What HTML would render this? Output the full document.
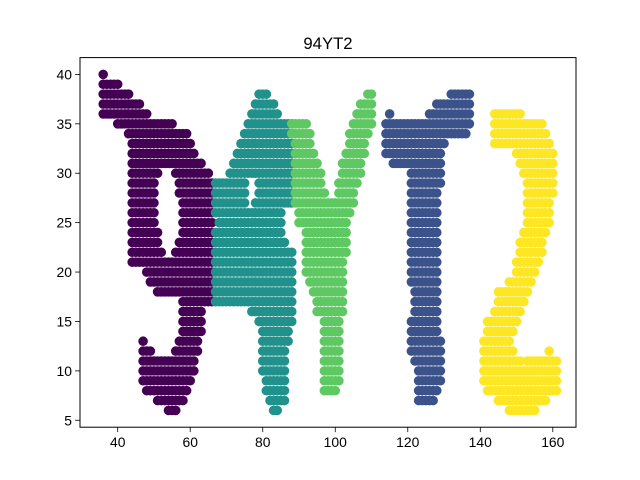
<!DOCTYPE html>
<html><head><meta charset="utf-8"><style>
html,body{margin:0;padding:0;background:#fff;}
svg{display:block;font-family:"Liberation Sans","DejaVu Sans",sans-serif;}
</style></head><body>
<svg id="chart" width="640" height="480" viewBox="0 0 640 480" xmlns="http://www.w3.org/2000/svg">
<rect x="0" y="0" width="640" height="480" fill="#fff"/>
<text x="328" y="49" text-anchor="middle" font-size="16.7" fill="#000">94YT2</text>
<g id="marks"></g>
<rect x="80" y="57.6" width="496" height="369.6" fill="none" stroke="#000" stroke-width="1"/>
<g id="axes"></g>
</svg>
<script>
// Row segments: [y, xStart, xEnd] — one point per integer x
const char9 = [[40,36,36],[39,36,40],[38,36,43],[37,36,46],[36,36,48],[35,40,55],[34,43,59],[33,44,60],[32,44,61],[31,44,63],
[30,44,51],[30,56,65],[29,44,50],[29,57,66],[28,44,50],[28,57,66],[27,44,50],[27,58,66],[26,44,50],[26,58,66],[25,44,50],[25,58,66],[24,44,51],[24,58,66],[23,44,51],[23,57,66],[22,44,52],[22,56,66],[21,44,66],[20,48,66],[19,49,66],[18,51,66],[17,58,66],[16,58,63],[15,58,63],[14,58,63],[13,47,47],[13,57,62],[12,47,49],[12,56,62],[11,47,61],[10,47,61],[9,47,60],[8,48,59],[7,51,58],[6,54,56]];
const char4 = [[38,79,81],[37,78,83],[36,77,84],[35,76,88],[34,75,88],[33,74,88],[32,73,88],[31,72,88],[30,71,88],[29,67,75],[29,79,88],[28,67,75],[28,79,88],[27,67,75],[27,78,88],[26,67,85],[25,68,85],[24,67,85],[23,67,86],[22,67,88],[21,67,88],[20,67,88],[19,67,88],[18,67,88],[17,67,88],[16,77,88],[15,79,88],[14,80,87],[13,80,87],[12,80,86],[11,80,86],[10,80,86],[9,81,86],[8,81,86],[7,82,86],[6,83,84]];
const charY = [[38,109,110],[37,107,110],[36,106,110],[35,88,92],[35,105,110],[34,88,93],[34,104,109],[33,89,93],[33,104,108],[32,89,94],[32,103,108],[31,89,95],[31,102,107],[30,89,96],[30,102,107],[29,89,96],[29,101,106],[28,89,97],[28,101,105],[27,89,105],[26,90,104],[25,90,103],[24,92,103],[23,92,103],[22,92,103],[21,92,102],[20,92,102],[19,93,102],[18,94,102],[17,95,102],[16,95,102],[15,97,101],[14,97,101],[13,97,101],[12,97,101],[11,97,101],[10,97,101],[9,97,101],[8,97,100]];
const charT = [[38,132,137],[37,128,137],[36,115,115],[36,126,137],[35,114,137],[34,114,136],[33,114,130],[32,114,129],[31,116,129],[30,121,129],[29,121,129],[28,121,128],[27,121,128],[26,121,128],[25,121,128],[24,121,128],[23,121,128],[22,121,128],[21,121,128],[20,121,128],[19,121,128],[18,122,128],[17,122,128],[16,122,128],[15,121,128],[14,121,128],[13,121,129],[12,121,129],[11,122,129],[10,123,129],[9,123,129],[8,123,128],[7,123,127]];
const char2 = [[36,144,151],[35,144,157],[34,144,158],[33,144,159],[32,150,160],[31,151,160],[30,152,160],[29,153,160],[28,153,160],[27,153,159],[26,153,159],[25,153,159],[24,152,158],[23,151,157],[22,151,157],[21,150,156],[20,150,155],[19,148,154],[18,145,153],[17,145,152],[16,144,151],[15,142,150],[14,142,149],[13,141,148],[12,141,149],[12,159,159],[11,141,151],[11,153,161],[10,141,161],[9,141,161],[8,142,161],[7,145,158],[6,148,155]];
const seriesNames = ["glyph-9","glyph-4","glyph-y","glyph-t","glyph-2"];
const xTicks = [40,60,80,100,120,140,160];
const yTicks = [5,10,15,20,25,30,35,40];

const NS = "http://www.w3.org/2000/svg";
const X0=80, X1=576, Y0=427.2, Y1=57.6;
const xMin=29.6, xMax=166.4, yMin=4.3, yMax=41.7;
function sx(v){return X0+(v-xMin)/(xMax-xMin)*(X1-X0);}
function sy(v){return Y0-(v-yMin)/(yMax-yMin)*(Y0-Y1);}

const colors=["#440154","#21918c","#5ec962","#3b528b","#fde725"];
const all=[char9,char4,charY,charT,char2];
const marks=document.getElementById('marks');
all.forEach((rows,si)=>{
  const g=document.createElementNS(NS,'g');
  
  
  g.setAttribute('fill', colors[si]);
  rows.forEach(r=>{
    for(let x=r[1];x<=r[2];x++){
      const c=document.createElementNS(NS,'circle');
      
      
      c.setAttribute('cx', sx(x).toFixed(2));
      c.setAttribute('cy', sy(r[0]).toFixed(2));
      c.setAttribute('r', 4.8);
      g.appendChild(c);
    }
  });
  marks.appendChild(g);
});

const axes=document.getElementById('axes');
xTicks.forEach(t=>{
  const x=sx(t);
  const l=document.createElementNS(NS,'line');
  
  
  l.setAttribute('x1',x);l.setAttribute('x2',x);l.setAttribute('y1',Y0);l.setAttribute('y2',Y0+4.9);
  l.setAttribute('stroke','#000');l.setAttribute('stroke-width','0.8');
  axes.appendChild(l);
  const tx=document.createElementNS(NS,'text');
  
  
  tx.setAttribute('x',x);tx.setAttribute('y',Y0+20);
  tx.setAttribute('text-anchor','middle');tx.setAttribute('font-size','13.9');
  tx.textContent=t;
  axes.appendChild(tx);
});
yTicks.forEach(t=>{
  const y=sy(t);
  const l=document.createElementNS(NS,'line');
  
  
  l.setAttribute('x1',X0-4.9);l.setAttribute('x2',X0);l.setAttribute('y1',y);l.setAttribute('y2',y);
  l.setAttribute('stroke','#000');l.setAttribute('stroke-width','0.8');
  axes.appendChild(l);
  const tx=document.createElementNS(NS,'text');
  
  
  tx.setAttribute('x',X0-8);tx.setAttribute('y',y+5);
  tx.setAttribute('text-anchor','end');tx.setAttribute('font-size','13.9');
  tx.textContent=t;
  axes.appendChild(tx);
});
</script>
</body></html>
